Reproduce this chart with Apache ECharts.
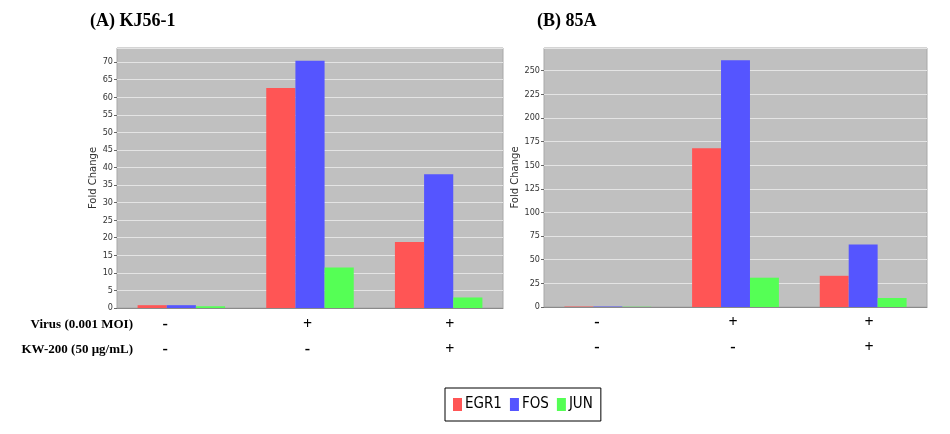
<!DOCTYPE html>
<html>
<head>
<meta charset="utf-8">
<script src="https://cdn.jsdelivr.net/npm/echarts@6/dist/echarts.min.js"></script>
<style>
  html, body { margin: 0; padding: 0; background: #fff; }
  #chart { width: 950px; height: 434px; }
</style>
</head>
<body>
<div id="chart"></div>
<script>
// categories (three treatment groups) and the sign rows under them
const groups = ["g1", "g2", "g3"];
const virusRow = ["-", "+", "+"];
const kwRow = ["-", "-", "+"];
const genes = ["EGR1", "FOS", "JUN"];
const colors = ["#ff5555", "#5555ff", "#55ff55"];

// (A) KJ56-1
const kjEGR1 = [0.8, 62.6, 18.8];
const kjFOS = [0.8, 70.4, 38.1];
const kjJUN = [0.5, 11.5, 3.0];
// (B) 85A
const a85EGR1 = [0.5, 168, 33];
const a85FOS = [0.5, 261, 66];
const a85JUN = [0.3, 31, 9.5];

const tickFont = { fontFamily: "DejaVu Sans Condensed", fontSize: 9, color: "#333" };
const signFont = { fontFamily: "Liberation Serif", fontWeight: "bold", fontSize: 16, color: "#000" };

function valueAxis(gridIndex, max, interval) {
  return {
    type: "value",
    gridIndex: gridIndex,
    min: 0,
    max: max,
    interval: interval,
    name: "Fold Change",
    nameLocation: "middle",
    nameGap: gridIndex === 0 ? 17 : 20,
    nameRotate: 90,
    nameTextStyle: { fontFamily: "DejaVu Sans", fontSize: 10, color: "#333" },
    axisLine: { show: false },
    axisTick: { show: true, length: 3, lineStyle: { color: "#666" } },
    axisLabel: Object.assign({ margin: 4, showMaxLabel: false }, tickFont),
    splitLine: { show: true, lineStyle: { color: "#e4e4e4", width: 1 } }
  };
}

function catAxis(gridIndex) {
  return {
    type: "category",
    gridIndex: gridIndex,
    data: groups,
    axisLine: { show: true, lineStyle: { color: "#8a8a8a" } },
    axisTick: { show: false },
    axisLabel: { show: false },
    splitLine: { show: false }
  };
}

function signAxis(gridIndex, data, offset) {
  return {
    type: "category",
    gridIndex: gridIndex,
    data: data,
    position: "bottom",
    offset: offset,
    axisLine: { show: false },
    axisTick: { show: false },
    axisLabel: Object.assign({ margin: 0, interval: 0 }, signFont),
    splitLine: { show: false }
  };
}

function bars(name, data, idx, axisIndex) {
  return {
    name: name,
    type: "bar",
    xAxisIndex: axisIndex,
    yAxisIndex: axisIndex,
    data: data,
    barGap: "0%",
    barCategoryGap: "32%",
    itemStyle: { color: colors[idx] },
    emphasis: { disabled: true }
  };
}

const chart = echarts.init(document.getElementById("chart"));
chart.setOption({
  animation: false,
  textStyle: { fontFamily: "DejaVu Sans" },
  title: [
    { text: "(A) KJ56-1", left: 85, top: 7,
      textStyle: { fontFamily: "Liberation Serif", fontWeight: "bold", fontSize: 18, color: "#000" } },
    { text: "(B) 85A", left: 532, top: 7,
      textStyle: { fontFamily: "Liberation Serif", fontWeight: "bold", fontSize: 18, color: "#000" } }
  ],
  legend: {
    data: genes,
    left: 445,
    top: 388,
    orient: "horizontal",
    icon: "rect",
    itemWidth: 9,
    itemHeight: 13,
    itemGap: 8,
    padding: [9, 8, 9, 8],
    borderColor: "#000",
    borderWidth: 1,
    textStyle: { fontFamily: "DejaVu Sans Condensed", fontSize: 15, color: "#000", padding: [0, 0, 0, -2] }
  },
  grid: [
    { left: 117, right: 447, top: 48, bottom: 126, show: true, backgroundColor: "#c0c0c0", borderColor: "#a8a8a8", borderWidth: 1 },
    { left: 544, right: 23, top: 48, bottom: 127, show: true, backgroundColor: "#c0c0c0", borderColor: "#a8a8a8", borderWidth: 1 },
    // label rows under the panels
    { left: 94, width: 427, top: 300, height: 8 },
    { left: 529, width: 408, top: 298, height: 8 }
  ],
  xAxis: [
    catAxis(0),
    catAxis(1),
    signAxis(2, virusRow, 9),
    signAxis(3, virusRow, 9),
    signAxis(2, kwRow, 34),
    signAxis(3, kwRow, 34)
  ],
  yAxis: [
    valueAxis(0, 74, 5),
    valueAxis(1, 274, 25),
    { type: "value", gridIndex: 2, show: false },
    { type: "value", gridIndex: 3, show: false }
  ],
  graphic: [
    { type: "text", right: 950 - 133, top: 318,
      style: { text: "Virus (0.001 MOI)", font: "bold 13px 'Liberation Serif'", fill: "#000" } },
    { type: "text", right: 950 - 133, top: 343,
      style: { text: "KW-200 (50 μg/mL)", font: "bold 13px 'Liberation Serif'", fill: "#000" } }
  ],
  series: [
    bars("EGR1", kjEGR1, 0, 0),
    bars("FOS", kjFOS, 1, 0),
    bars("JUN", kjJUN, 2, 0),
    bars("EGR1", a85EGR1, 0, 1),
    bars("FOS", a85FOS, 1, 1),
    bars("JUN", a85JUN, 2, 1)
  ]
});
</script>
</body>
</html>
